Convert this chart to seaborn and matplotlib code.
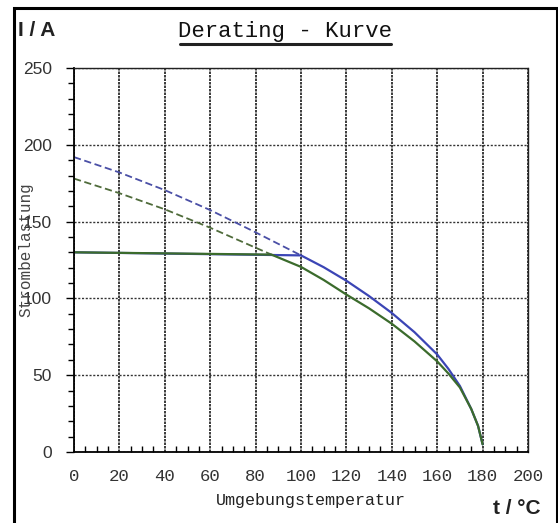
import numpy as np
import matplotlib.pyplot as plt
import seaborn as sns
from matplotlib.lines import Line2D
from matplotlib.patches import Rectangle

# Derating curves (ambient temperature in degC -> current in A)
temp_blue_dash = [0, 20, 40, 60, 80, 100]
blue_dash = [192, 182, 170.5, 157.5, 143, 128]

temp_green_dash = [0, 20, 40, 60, 80, 87]
green_dash = [178, 168.5, 158, 146, 133, 128.5]

temp_blue = [0, 100, 110, 120, 130, 140, 150, 160, 165, 170, 175, 178, 180]
blue_solid = [130, 128, 120.3, 111.5, 101.5, 90.5, 78, 63.5, 54, 43, 28, 17, 5]

temp_green = [0, 87, 100, 110, 120, 130, 140, 150, 160, 165, 170, 175, 178, 180]
green_solid = [130, 128.5, 120.5, 112, 102.5, 93.5, 83.5, 72, 59, 51, 42, 28, 17, 5]

x_ticks = list(range(0, 201, 20))
y_ticks = list(range(0, 251, 50))

sns.set_style("white")
mono = "Liberation Mono"
sans = "Liberation Sans"

fig = plt.figure(figsize=(5.58, 5.23), dpi=100)
ax = fig.add_axes([74 / 558, 1 - 452 / 523, (528 - 74) / 558, (452 - 68) / 523])

sns.lineplot(x=temp_blue_dash, y=blue_dash, ax=ax, color="#4a4fa6", lw=1.3,
             linestyle=(0, (4, 2)))
sns.lineplot(x=temp_green_dash, y=green_dash, ax=ax, color="#4f6b3a", lw=1.3,
             linestyle=(0, (4, 2)))
sns.lineplot(x=temp_blue, y=blue_solid, ax=ax, color="#3b45b5", lw=1.6)
sns.lineplot(x=temp_green, y=green_solid, ax=ax, color="#3b6b2c", lw=1.6)

ax.set_xlim(0, 200)
ax.set_ylim(0, 250)
ax.set_xticks(x_ticks)
ax.set_yticks(y_ticks)
ax.set_xticks(np.arange(0, 201, 5), minor=True)
ax.set_yticks(np.arange(0, 251, 10), minor=True)

ax.xaxis.grid(True, color="#1a1a1a", lw=1.2, linestyle=(0, (1.5, 0.6)))
ax.yaxis.grid(True, color="#333333", lw=1.0, linestyle=(0, (1.5, 1.2)))
ax.set_axisbelow(True)

for s in ["left", "bottom"]:
    ax.spines[s].set_color("black")
    ax.spines[s].set_linewidth(1.3)
for s in ["top", "right"]:
    ax.spines[s].set_color("#222222")
    ax.spines[s].set_linewidth(1.0)
    ax.spines[s].set_linestyle((0, (1.5, 1.0)))

ax.tick_params(axis="x", which="major", direction="in", length=0, pad=12)
ax.tick_params(axis="x", which="minor", direction="in", length=4, width=1)
ax.tick_params(axis="y", which="major", direction="out", length=6, width=1, pad=10)
ax.tick_params(axis="y", which="minor", direction="out", length=4, width=1)
ax.tick_params(bottom=True, left=True, which="both", colors="black", labelcolor="#333333")

for lab in ax.get_xticklabels():
    lab.set_fontfamily(mono)
    lab.set_fontsize(12.5)
for lab in ax.get_yticklabels():
    lab.set_fontfamily(sans)
    lab.set_fontsize(12.5)

ax.set_xlabel("")
ax.set_ylabel("")

# labels placed as in the original sheet
fig.text(311 / 558, 1 - 500 / 523, "Umgebungstemperatur", family=mono, fontsize=12,
         ha="center", va="center", color="#222222")
fig.text(26 / 558, 1 - 250 / 523, "Strombelastung", family=mono, fontsize=11.5,
         rotation=90, ha="center", va="center", color="#444444")
fig.text(285 / 558, 1 - 31 / 523, "Derating - Kurve", family=mono, fontsize=16,
         ha="center", va="center", color="#111111")
fig.add_artist(Line2D([180 / 558, 391 / 558], [1 - 44 / 523, 1 - 44 / 523],
                      color="#222222", lw=2.2))
fig.text(18 / 558, 1 - 31 / 523, "I / A", family=sans, fontsize=15, fontweight="bold",
         ha="left", va="center", color="#222222")
fig.text(541 / 558, 1 - 508 / 523, "t / °C", family=sans, fontsize=15, fontweight="bold",
         ha="right", va="center", color="#222222")

# outer frame
fig.add_artist(Rectangle((14 / 558, -0.02), (557 - 14) / 558, 1.02 - 8 / 523,
                         transform=fig.transFigure, fill=False, ec="black", lw=2.2))

fig.savefig("out.png", dpi=100)
